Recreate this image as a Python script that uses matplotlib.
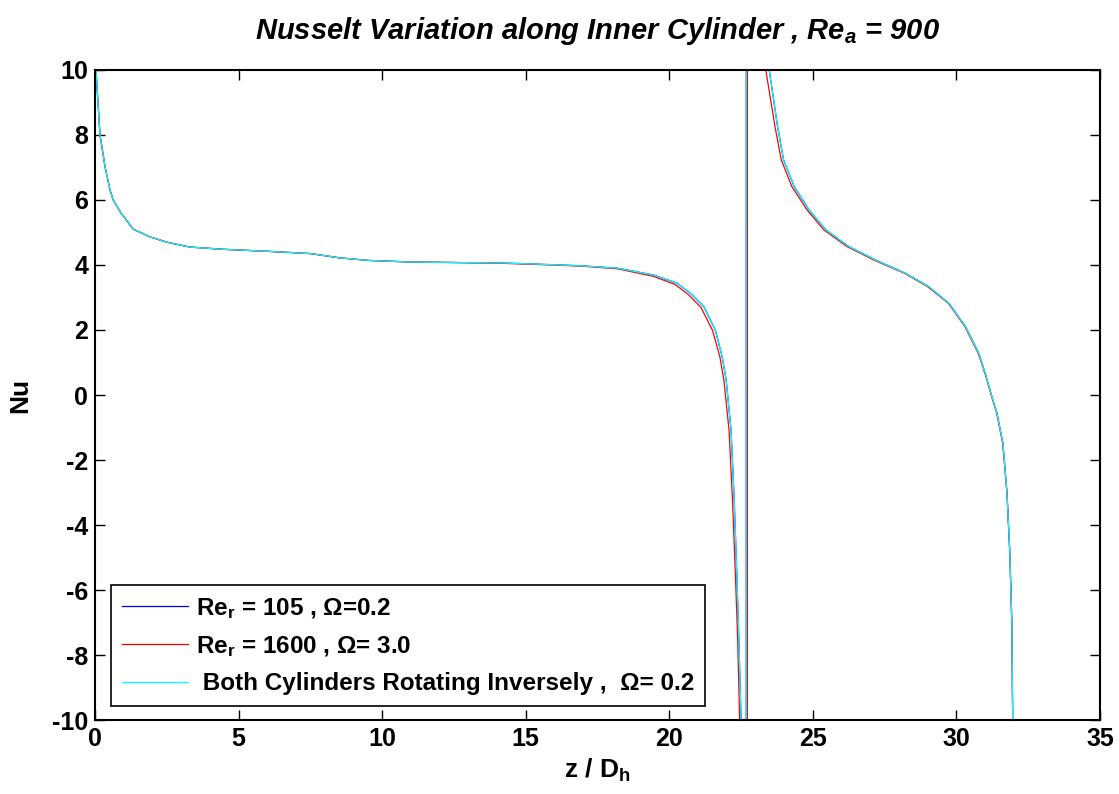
import matplotlib
matplotlib.use("Agg")
import matplotlib.pyplot as plt

plt.rcParams['font.family'] = ['Liberation Sans', 'DejaVu Sans']
plt.rcParams['font.weight'] = 'bold'
plt.rcParams['axes.unicode_minus'] = False
plt.rcParams['mathtext.fontset'] = 'custom'
plt.rcParams['mathtext.rm'] = 'Liberation Sans:bold'
plt.rcParams['mathtext.it'] = 'Liberation Sans:italic:bold'
plt.rcParams['mathtext.bf'] = 'Liberation Sans:bold'

# Re_r = 105, Omega = 0.2 (mostly hidden under the cyan curve)
z_blue = [0.0, 0.03, 0.17, 0.35, 0.52, 0.63, 0.9, 1.33, 1.92, 2.5, 3.3, 4.5, 6.0, 7.5,
          8.5, 9.5, 11.0, 13.0, 14.2, 16.2, 17.0, 18.2, 19.45, 20.27, 20.73, 21.2, 21.6,
          21.84, 21.98, 22.15, 22.26, 22.35, 22.42, 22.5, 22.56, 22.62, 22.67,
          22.69, 22.75, 22.85, 23.0, 23.2, 23.48, 23.77, 23.98, 24.35, 24.87, 25.45,
          26.26, 27.19, 28.23, 29.04, 29.74, 30.32, 30.78, 31.04, 31.25, 31.41, 31.62,
          31.76, 31.86, 31.93, 31.96, 31.98]
nu_blue = [11.0, 10.0, 8.0, 7.0, 6.3, 6.0, 5.6, 5.1, 4.86, 4.7, 4.55, 4.48, 4.42, 4.35,
           4.22, 4.14, 4.09, 4.07, 4.06, 4.0, 3.97, 3.9, 3.69, 3.44, 3.13, 2.72, 2.0,
           1.18, 0.46, -1.08, -3.23, -5.5, -7.5, -10.0, -15.0, -35.0, -400.0,
           400.0, 100.0, 45.0, 24.0, 14.5, 10.0, 8.26, 7.23, 6.41, 5.69, 5.08,
           4.56, 4.15, 3.74, 3.33, 2.82, 2.10, 1.28, 0.56, -0.09, -0.55, -1.48,
           -3.0, -4.86, -7.0, -10.0, -12.0]

# Re_r = 1600, Omega = 3.0
z_red = [0.0, 0.03, 0.17, 0.35, 0.52, 0.63, 0.9, 1.33, 1.92, 2.5, 3.3, 4.5, 6.0, 7.5,
         8.5, 9.5, 11.0, 13.0, 14.2, 16.2, 17.0, 18.2, 19.45, 20.2, 20.65, 21.1, 21.5,
         21.76, 21.9, 22.08, 22.2, 22.3, 22.38, 22.45, 22.55, 22.65, 22.71,
         22.73, 22.8, 22.9, 23.05, 23.2, 23.36, 23.68, 23.9, 24.27, 24.8, 25.38,
         26.2, 27.13, 28.2, 29.0, 29.72, 30.3, 30.76, 31.03, 31.24, 31.4, 31.61,
         31.76, 31.86, 31.93, 31.96, 31.98]
nu_red = [11.0, 10.0, 8.0, 7.0, 6.3, 6.0, 5.6, 5.1, 4.86, 4.7, 4.55, 4.48, 4.42, 4.35,
          4.22, 4.14, 4.09, 4.07, 4.05, 3.99, 3.96, 3.88, 3.65, 3.4, 3.1, 2.7, 2.0,
          1.18, 0.46, -1.08, -3.23, -5.5, -7.5, -10.0, -16.0, -40.0, -400.0,
          400.0, 100.0, 40.0, 22.0, 14.5, 10.0, 8.26, 7.23, 6.41, 5.69, 5.08,
          4.56, 4.15, 3.74, 3.33, 2.82, 2.10, 1.28, 0.56, -0.09, -0.55, -1.48,
          -3.0, -4.86, -7.0, -10.0, -12.0]

# Both cylinders rotating inversely, Omega = 0.2
z_cyan = z_blue
nu_cyan = nu_blue

labels = [r'Re$_\mathrm{r}$ = 105 , Ω=0.2',
          r'Re$_\mathrm{r}$ = 1600 , Ω= 3.0',
          ' Both Cylinders Rotating Inversely ,  Ω= 0.2']

fig = plt.figure(figsize=(11.19, 7.94), dpi=100)
ax = fig.add_axes([0.085, 0.093, 0.898, 0.819])

ax.plot(z_blue, nu_blue, color='blue', linewidth=0.9, label=labels[0])
ax.plot(z_red, nu_red, color='red', linewidth=0.9, label=labels[1])
ax.plot(z_cyan, nu_cyan, color='cyan', linewidth=0.9, label=labels[2])

ax.set_xlim(0, 35)
ax.set_ylim(-10, 10)
ax.set_xticks(range(0, 36, 5))
ax.set_yticks(range(-10, 11, 2))
ax.tick_params(direction='in', length=7, width=1, labelsize=18, top=True, right=True, pad=5)
for lab in ax.get_xticklabels() + ax.get_yticklabels():
    lab.set_fontweight('bold')
for sp in ax.spines.values():
    sp.set_linewidth(1.5)

ax.set_xlabel(r'z / D$_\mathrm{h}$', fontsize=19, fontweight='bold', labelpad=4)
ax.set_ylabel('Nu', fontsize=19, fontweight='bold', labelpad=14)
ax.set_title(r'Nusselt Variation along Inner Cylinder , Re$_a$ = 900',
             fontsize=21, fontweight='bold', fontstyle='italic', pad=22)

leg = ax.legend(loc='lower left', bbox_to_anchor=(0.016, 0.0215), borderaxespad=0,
                fontsize=17.5, handlelength=2.7, handletextpad=0.35, labelspacing=0.55,
                fancybox=False, framealpha=1, edgecolor='black', borderpad=0.45)
leg.get_frame().set_linewidth(1.2)

fig.savefig('out.png', dpi=100)
plt.close(fig)
